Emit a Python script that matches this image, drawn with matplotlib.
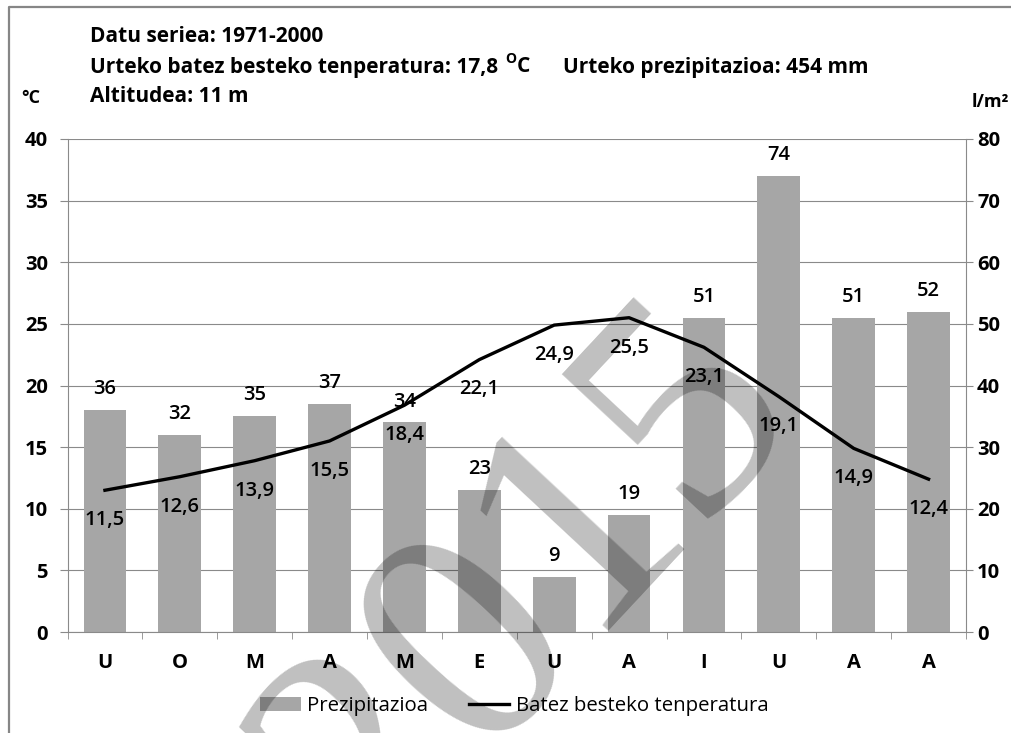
import numpy as np
import matplotlib
matplotlib.use('Agg')
import matplotlib.pyplot as plt
from matplotlib.patches import Patch
from matplotlib.lines import Line2D

# data
months = ['U', 'O', 'M', 'A', 'M', 'E', 'U', 'A', 'I', 'U', 'A', 'A']
precip = [36, 32, 35, 37, 34, 23, 9, 19, 51, 74, 51, 52]
temp = [11.5, 12.6, 13.9, 15.5, 18.4, 22.1, 24.9, 25.5, 23.1, 19.1, 14.9, 12.4]
temp_ticks = list(range(0, 41, 5))
precip_ticks = list(range(0, 81, 10))

W, H = 1011, 733
GRAY = '#8a8a8a'
BAR = '#a6a6a6'
FS = 15


def fx(px):
    return px / W


def fy(py):
    return 1 - py / H


plt.rcParams['font.family'] = ['Open Sans', 'DejaVu Sans']

fig = plt.figure(figsize=(W / 100, H / 100), dpi=100)
ax = fig.add_axes([fx(67.5), fy(632), fx(966) - fx(67.5), fy(139) - fy(632)])
ax2 = ax.twinx()
ax.set_zorder(ax2.get_zorder() + 1)
ax.patch.set_visible(False)

x = np.arange(len(months))

# precipitation bars on the right axis
ax2.bar(x, precip, width=0.57, color=BAR, zorder=2)
ax2.set_ylim(0, 80)
ax2.set_yticks(precip_ticks)
ax2.set_yticklabels([str(t) for t in precip_ticks], fontweight='bold')
ax2.tick_params(axis='y', length=5, color=GRAY, pad=3, labelsize=FS - 0.5)
ax2.set_axisbelow(True)
ax2.grid(axis='y', color=GRAY, lw=0.8)
for s in ax2.spines.values():
    s.set_visible(False)
for xi, v in zip(x, precip):
    ax2.annotate(str(v), (xi, v), xytext=(0, 15), textcoords='offset points',
                 ha='center', va='center', fontsize=FS - 0.5, fontweight='semibold')

# temperature line on the left axis
ax.plot(x, temp, color='black', lw=2.4)
ax.set_ylim(0, 40)
ax.set_xlim(-0.5, len(months) - 0.5)
ax.set_yticks(temp_ticks)
ax.set_yticklabels([str(t) for t in temp_ticks], fontweight='bold')
ax.tick_params(axis='y', length=6, color=GRAY, pad=8, labelsize=FS - 0.5)
for xi, t in zip(x, temp):
    ax.annotate(f'{t:.1f}'.replace('.', ','), (xi, t), xytext=(0, -21.5),
                textcoords='offset points', ha='center', va='center',
                fontsize=FS - 0.5, fontweight='semibold')

ax.set_xticks(x)
ax.set_xticklabels(months, fontweight='bold')
ax.set_xticks(np.arange(-0.5, len(months), 1), minor=True)
ax.tick_params(axis='x', which='major', length=0, pad=15, labelsize=FS - 0.5)
ax.tick_params(axis='x', which='minor', length=5, color=GRAY)
ax.spines['top'].set_visible(False)
for k in ('left', 'right', 'bottom'):
    ax.spines[k].set_color(GRAY)
    ax.spines[k].set_linewidth(0.8)

# header texts
hdr = dict(fontsize=FS, fontweight='bold', va='center', ha='left')
fig.text(fx(90), fy(37), 'Datu seriea: 1971-2000', **hdr)
t2 = fig.text(fx(90), fy(67), 'Urteko batez besteko tenperatura: 17,8 ', **hdr)
t3 = ax.annotate('O', xy=(1, 0.5), xycoords=t2, xytext=(1, 1), textcoords='offset points',
                 fontsize=10, fontweight='bold', ha='left', va='bottom', annotation_clip=False)
ax.annotate('C', xy=(1, 0.5), xycoords=(t3, t2), xytext=(0.5, 0), textcoords='offset points',
            fontsize=FS, fontweight='bold', ha='left', va='center', annotation_clip=False)
fig.text(fx(563), fy(67), 'Urteko prezipitazioa: 454 mm', **hdr)
fig.text(fx(90), fy(97), 'Altitudea: 11 m', **hdr)
fig.text(fx(21), fy(98), '°C', fontsize=13, fontweight='bold', va='center', ha='left')
fig.text(fx(972), fy(102), 'l/m²', fontsize=13, fontweight='bold', va='center', ha='left')

# legend
handles = [Patch(facecolor=BAR), Line2D([0], [0], color='black', lw=2.4)]
fig.legend(handles, ['Prezipitazioa', 'Batez besteko tenperatura'],
           loc='center', bbox_to_anchor=(fx(514), fy(706)), ncol=2, frameon=False,
           fontsize=14.7, handlelength=2.0, handletextpad=0.3, columnspacing=2.0)

# outer frame
fig.add_artist(Line2D([fx(9), fx(9), 1.01], [-0.01, fy(6.5), fy(6.5)],
                      transform=fig.transFigure, color='#868686', lw=1.6))

# watermark
fig.text(fx(530), fy(588), '2015', fontsize=228, family='Liberation Serif',
         rotation=47, rotation_mode='anchor', ha='center', va='center',
         color='black', alpha=0.25, zorder=10)

fig.savefig('out.png', dpi=100)
